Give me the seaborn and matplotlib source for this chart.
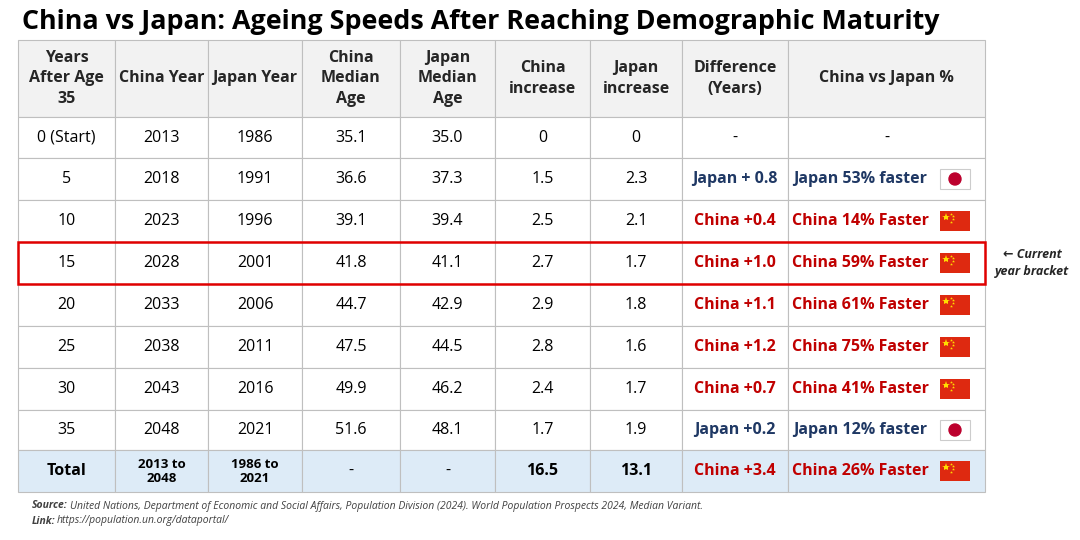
import matplotlib.pyplot as plt
import matplotlib.patches as patches
import seaborn as sns

sns.set_theme(style="white")
plt.rcParams['font.family'] = ['Open Sans', 'DejaVu Sans']

# Dữ liệu bảng
header = ["Years\nAfter Age\n35", "China Year", "Japan Year", "China\nMedian\nAge", "Japan\nMedian\nAge",
          "China\nincrease", "Japan\nincrease", "Difference\n(Years)", "China vs Japan %"]
rows = [
    ["0 (Start)", "2013", "1986", "35.1", "35.0", "0", "0", "-", "-", None],
    ["5", "2018", "1991", "36.6", "37.3", "1.5", "2.3", "Japan + 0.8", "Japan 53% faster", "JP"],
    ["10", "2023", "1996", "39.1", "39.4", "2.5", "2.1", "China +0.4", "China 14% Faster", "CN"],
    ["15", "2028", "2001", "41.8", "41.1", "2.7", "1.7", "China +1.0", "China 59% Faster", "CN"],
    ["20", "2033", "2006", "44.7", "42.9", "2.9", "1.8", "China +1.1", "China 61% Faster", "CN"],
    ["25", "2038", "2011", "47.5", "44.5", "2.8", "1.6", "China +1.2", "China 75% Faster", "CN"],
    ["30", "2043", "2016", "49.9", "46.2", "2.4", "1.7", "China +0.7", "China 41% Faster", "CN"],
    ["35", "2048", "2021", "51.6", "48.1", "1.7", "1.9", "Japan +0.2", "Japan 12% faster", "JP"],
    ["Total", "2013 to\n2048", "1986 to\n2021", "-", "-", "16.5", "13.1", "China +3.4", "China 26% Faster", "CN"],
]
col_x = [18, 115, 208, 302, 400, 495, 590, 682, 788, 985]
row_y = [40, 117, 158, 200, 242, 284, 326, 368, 410, 450, 492]
colors = {"JP": "#1f3864", "CN": "#c00000"}

fig, ax = plt.subplots(figsize=(10.8, 5.4), dpi=100)
fig.subplots_adjust(0, 0, 1, 1)
ax.set_xlim(0, 1080)
ax.set_ylim(540, 0)
ax.axis("off")

ax.text(22, 22, "China vs Japan: Ageing Speeds After Reaching Demographic Maturity",
        fontsize=19.4, fontweight="bold", va="center", color="black")

# Header
for j, h in enumerate(header):
    ax.add_patch(patches.Rectangle((col_x[j], row_y[0]), col_x[j+1]-col_x[j], row_y[1]-row_y[0],
                                   facecolor="#f2f2f2", edgecolor="#bfbfbf", lw=0.8))
    ax.text((col_x[j]+col_x[j+1])/2, (row_y[0]+row_y[1])/2, h, ha="center", va="center",
            fontsize=11.5, fontweight="bold", linespacing=1.35)

# Các dòng
for i, r in enumerate(rows):
    y0, y1 = row_y[i+1], row_y[i+2]
    total = r[0] == "Total"
    for j in range(9):
        ax.add_patch(patches.Rectangle((col_x[j], y0), col_x[j+1]-col_x[j], y1-y0,
                                       facecolor="#ddebf7" if total else "white", edgecolor="#bfbfbf", lw=0.8))
        c = colors[r[9]] if (j >= 7 and r[9]) else "black"
        bold = j >= 7 and r[9] is not None or (total and j in (0, 1, 2, 5, 6))
        x = (col_x[j]+col_x[j+1])/2
        if j == 8 and r[9]:
            x = col_x[j] + 72
        fs = 9.5 if (total and j in (1, 2)) else 11.5
        ax.text(x, (y0+y1)/2, r[j], ha="center", va="center", fontsize=fs, color=c,
                fontweight="bold" if bold else "normal", linespacing=1.1)
    # Cờ
    fx, fy = 940, (y0+y1)/2 - 10
    if r[9] == "JP":
        ax.add_patch(patches.Rectangle((fx, fy), 30, 20, facecolor="white", edgecolor="#cccccc", lw=0.8))
        ax.add_patch(patches.Circle((fx+15, fy+10), 6, color="#bc002d"))
    elif r[9] == "CN":
        ax.add_patch(patches.Rectangle((fx, fy), 30, 20, facecolor="#de2910", edgecolor="none"))
        ax.plot([fx+6], [fy+6], marker="*", color="#ffde00", ms=6, mew=0)
        ax.plot([fx+11, fx+13, fx+13, fx+11], [fy+2.5, fy+5, fy+8, fy+10.5], ls="none",
                marker="*", color="#ffde00", ms=2.2, mew=0)

# Khung đỏ dòng hiện tại
ax.add_patch(patches.Rectangle((col_x[0], row_y[4]), col_x[-1]-col_x[0], row_y[5]-row_y[4],
                               fill=False, edgecolor="#e00000", lw=1.8))
ax.text(1032, 263, "← Current\nyear bracket", ha="center", va="center", fontsize=9,
        style="italic", fontweight="bold", linespacing=1.5)

ax.text(32, 506, "Source:", fontsize=7.5, style="italic", fontweight="bold", color="#404040", va="center")
ax.text(70, 506, "United Nations, Department of Economic and Social Affairs, Population Division (2024). "
        "World Population Prospects 2024, Median Variant.", fontsize=7.5, style="italic", color="#404040", va="center")
ax.text(32, 521, "Link:", fontsize=7.5, style="italic", fontweight="bold", color="#404040", va="center")
ax.text(57, 521, "https://population.un.org/dataportal/", fontsize=7.5, style="italic", color="#404040", va="center")

plt.savefig("out.png", dpi=100)
